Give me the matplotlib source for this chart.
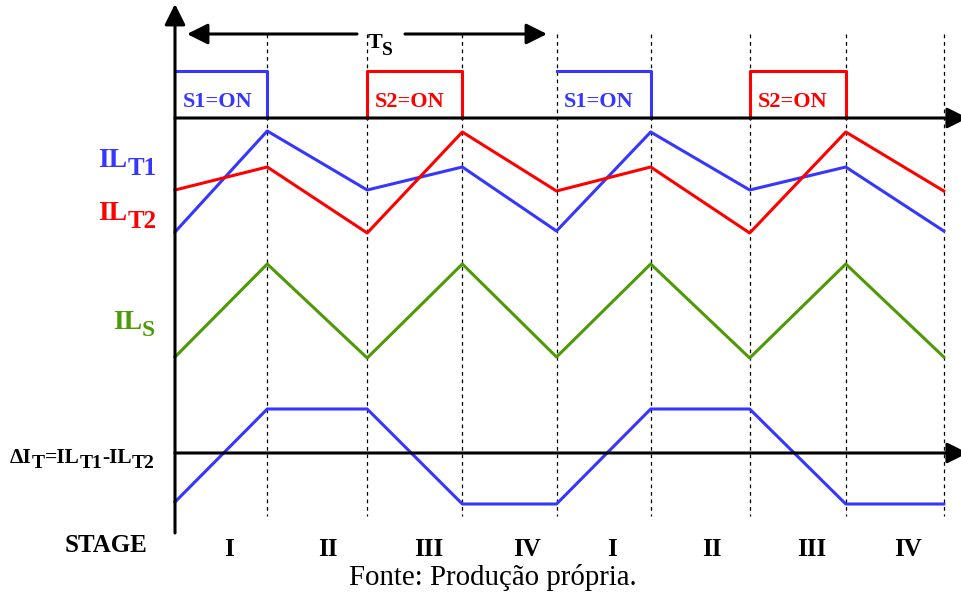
import matplotlib
matplotlib.use("Agg")
import matplotlib.pyplot as plt

# ---------------- data ----------------
# stage boundaries (time, in units of ~one stage)
t = [0, 0.96, 2.0, 2.99, 3.97, 4.95, 5.98, 6.98, 8.0]
stage_names = ["I", "II", "III", "IV", "I", "II", "III", "IV"]
stage_label_t = [0.56, 1.59, 2.64, 3.66, 4.55, 5.59, 6.63, 7.63]

# gate signals per stage (1 = ON)
s1_gate = [1, 0, 0, 0, 1, 0, 0, 0]
s2_gate = [0, 0, 1, 0, 0, 0, 1, 0]

# inductor currents at the stage boundaries (arbitrary units)
il_t1 = [2.8, 12.9, 7.0, 9.3, 2.9, 12.8, 7.0, 9.3, 2.9]
il_t2 = [7.0, 9.3, 2.7, 12.8, 6.9, 9.3, 2.7, 12.8, 6.9]
il_s = [0.0, 9.3, -0.1, 9.3, 0.0, 9.3, -0.1, 9.3, 0.0]
delta_it = [-4.9, 4.4, 4.4, -5.1, -5.1, 4.4, 4.4, -5.1, -5.1]

# ---------------- styling ----------------
BLUE = "#3636ff"
RED = "#ff0000"
GREEN = "#4e9a06"
SERIF = "Liberation Serif"
LW = 2.2

fig = plt.figure(figsize=(9.61, 5.96), dpi=100)
ax = fig.add_axes([0, 0, 1, 1])
ax.set_xlim(-1.821, 8.179)
ax.set_ylim(59.6, 0)
ax.axis("off")

# trace baselines (vertical layout)
GATE_BASE, GATE_H = 11.8, 4.7
ILT_BASE = 26.0
ILS_BASE = 35.7
DI_BASE = 45.3

# dashed stage boundaries
for tt in t[1:]:
    ax.plot([tt, tt], [3.4, 51.6], color="black", lw=0.9, ls=(0, (3, 3)), zorder=1)

arrow_kw = dict(arrowstyle="-|>,head_length=0.9,head_width=0.45", lw=LW,
                color="black", shrinkA=0, shrinkB=0, mutation_scale=14)


def arrow(tip, start, z=4):
    ax.annotate("", xy=tip, xytext=start, arrowprops=arrow_kw, zorder=z,
                annotation_clip=False)


# axes
arrow((0, 0.4), (0, 53.3), 5)
arrow((8.25, GATE_BASE), (0, GATE_BASE))
arrow((8.25, DI_BASE), (0, DI_BASE))

# Ts arrow
arrow((0.125, 3.4), (1.894, 3.4))
arrow((3.871, 3.4), (2.393, 3.4))


def rich(x, y, parts, color, weight="bold"):
    size0, txt0, dy0 = parts[0]
    prev = ax.text(x, y + dy0, txt0, fontsize=size0, color=color, fontweight=weight,
                   family=SERIF, va="baseline", ha="left", zorder=6)
    for size, txt, dy in parts[1:]:
        prev = ax.annotate(txt, xy=(1, y + dy), xycoords=(prev, "data"), fontsize=size,
                           color=color, fontweight=weight, family=SERIF,
                           va="baseline", ha="left", zorder=6, annotation_clip=False)
    return prev


rich(2.0, 4.8, [(16, "T", 0), (14, "S", 0.7)], "black")

# gate pulses
hi = GATE_BASE - GATE_H
for k, on in enumerate(s1_gate):
    if on:
        a, b = t[k], t[k + 1]
        ax.plot([a, b, b], [hi, hi, GATE_BASE], color=BLUE, lw=LW, zorder=3)
        ax.text(a + 0.08, 10.7, "S1=ON", color=BLUE, fontsize=16, fontweight="bold",
                family=SERIF, va="baseline", ha="left")
for k, on in enumerate(s2_gate):
    if on:
        a, b = t[k], t[k + 1]
        ax.plot([a, a, b, b], [GATE_BASE, hi, hi, GATE_BASE], color=RED, lw=LW, zorder=3)
        ax.text(a + 0.08, 10.7, "S2=ON", color=RED, fontsize=16, fontweight="bold",
                family=SERIF, va="baseline", ha="left")

# waveforms
ax.plot(t, [ILT_BASE - v for v in il_t1], color=BLUE, lw=LW, zorder=3)
ax.plot(t, [ILT_BASE - v for v in il_t2], color=RED, lw=LW, zorder=3)
ax.plot(t, [ILS_BASE - v for v in il_s], color=GREEN, lw=LW, zorder=3)
ax.plot(t, [DI_BASE - v for v in delta_it], color=BLUE, lw=LW, zorder=3)

# trace labels
rich(-0.80, 16.7, [(20, "IL", 0), (18, "T1", 0.8)], BLUE)
rich(-0.80, 22.0, [(20, "IL", 0), (18, "T2", 0.8)], RED)
rich(-0.645, 32.9, [(20, "IL", 0), (17, "S", 0.7)], GREEN)
rich(-1.717, 46.3, [(15.5, "\u0394I", 0), (14, "T", 0.5), (15.5, "=IL", 0), (14, "T1", 0.5),
                    (15.5, "-IL", 0), (14, "T2", 0.5)], "black")

# stage row
ax.text(-1.145, 55.2, "STAGE", fontsize=18, fontweight="bold", family=SERIF,
        va="baseline", ha="left")
for x, name in zip(stage_label_t, stage_names):
    ax.text(x, 55.6, name, fontsize=18, fontweight="bold", family=SERIF,
            va="baseline", ha="center")

ax.text(3.31, 58.5, "Fonte: Produção própria.", fontsize=20.8, family=SERIF,
        va="baseline", ha="center")

fig.savefig("out.png", dpi=100)
